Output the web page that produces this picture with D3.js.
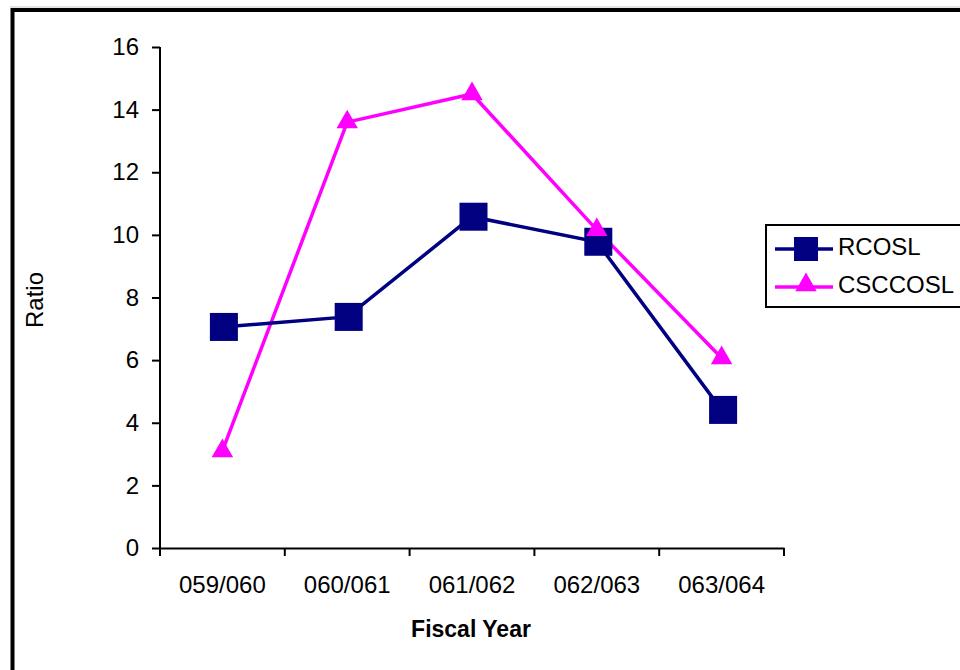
<!DOCTYPE html>
<html>
<head>
<meta charset="utf-8">
<script src="https://cdn.jsdelivr.net/npm/d3@7"></script>
<style>
  body { margin: 0; background: #fff; }
  svg { display: block; font-family: "Liberation Sans", Arial, sans-serif; }
</style>
</head>
<body>
<div id="chart"></div>
<script>
/**
 * DATA
 * */
const years = ["059/060", "060/061", "061/062", "062/063", "063/064"];
const rcosl = [7.06, 7.38, 10.58, 9.78, 4.41];
const csccosl = [3.1, 13.6, 14.5, 10.16, 6.07];
const yTicks = [0, 2, 4, 6, 8, 10, 12, 14, 16];

const width = 960,
  height = 670,
  margin = { top: 47, bottom: 122, left: 160, right: 176 };

const navy = "#000080",
  magenta = "#ff00ff",
  font = "Liberation Sans, Arial, sans-serif";

const svg = d3.select("#chart")
  .append("svg")
  .attr("width", width)
  .attr("height", height);

// page edge + chart frame
svg.append("line")
  .attr("x1", 10).attr("x2", width)
  .attr("y1", 7).attr("y2", 7)
  .attr("stroke", "#c8c8c8").attr("stroke-width", 1);

svg.append("rect")
  .attr("x", 12.5).attr("y", 10)
  .attr("width", width + 20).attr("height", height + 20)
  .attr("fill", "none")
  .attr("stroke", "#000")
  .attr("stroke-width", 4);

// SCALES
const xScale = d3.scaleBand()
  .domain(years)
  .range([margin.left, width - margin.right]);

const yScale = d3.scaleLinear()
  .domain([0, 16])
  .range([height - margin.bottom, margin.top]);

const cx = d => xScale(d) + xScale.bandwidth() / 2;

// AXES
const xAxis = d3.axisBottom(xScale).tickSize(0).tickPadding(28);
const yAxis = d3.axisLeft(yScale).tickValues(yTicks).tickSize(8).tickPadding(13);

const gx = svg.append("g")
  .attr("transform", `translate(0,${yScale(0)})`)
  .call(xAxis);
gx.select(".domain").attr("stroke", "#000").attr("stroke-width", 2);
gx.selectAll("text").attr("font-size", 24).attr("fill", "#000").attr("font-family", font);

// category boundary ticks
svg.append("g")
  .selectAll("line")
  .data(d3.range(years.length + 1))
  .join("line")
  .attr("x1", i => margin.left + i * xScale.bandwidth())
  .attr("x2", i => margin.left + i * xScale.bandwidth())
  .attr("y1", yScale(0))
  .attr("y2", yScale(0) + 8)
  .attr("stroke", "#000")
  .attr("stroke-width", 2);

const gy = svg.append("g")
  .attr("transform", `translate(${margin.left},0)`)
  .call(yAxis);
gy.select(".domain").attr("stroke", "#000").attr("stroke-width", 2).attr("d", `M0,${yScale(0)}V${yScale(16)}`);
gy.selectAll(".tick line").attr("stroke", "#000").attr("stroke-width", 2);
gy.selectAll("text").attr("font-size", 24).attr("fill", "#000").attr("font-family", font);

// axis titles
svg.append("text")
  .attr("x", 471)
  .attr("y", 637)
  .attr("text-anchor", "middle")
  .attr("font-size", 23)
  .attr("font-weight", "bold")
  .text("Fiscal Year");

svg.append("text")
  .attr("transform", `translate(43,300) rotate(-90)`)
  .attr("text-anchor", "middle")
  .attr("font-size", 24)
  .text("Ratio");

// LINES
const line = d3.line()
  .x((d, i) => cx(years[i]))
  .y(d => yScale(d));

svg.append("path")
  .datum(csccosl)
  .attr("d", line)
  .attr("fill", "none")
  .attr("stroke", magenta)
  .attr("stroke-width", 3.5);

svg.append("path")
  .datum(rcosl)
  .attr("d", line)
  .attr("fill", "none")
  .attr("stroke", navy)
  .attr("stroke-width", 3.5);

const sq = 28;
const tri = d3.symbol().type(d3.symbolTriangle).size(200);

svg.append("g")
  .selectAll("rect")
  .data(rcosl)
  .join("rect")
  .attr("x", (d, i) => cx(years[i]) - sq / 2 + 1.5)
  .attr("y", d => yScale(d) - sq / 2)
  .attr("width", sq)
  .attr("height", sq)
  .attr("fill", navy);

svg.append("g")
  .selectAll("path")
  .data(csccosl)
  .join("path")
  .attr("d", tri)
  .attr("transform", (d, i) => `translate(${cx(years[i])},${yScale(d)})`)
  .attr("fill", magenta);

// LEGEND
const legend = svg.append("g");
legend.append("rect")
  .attr("x", 766).attr("y", 225)
  .attr("width", 260).attr("height", 82)
  .attr("fill", "#fff")
  .attr("stroke", "#000")
  .attr("stroke-width", 2);

const items = [
  { name: "RCOSL", color: navy, shape: "square" },
  { name: "CSCCOSL", color: magenta, shape: "triangle" }
];

items.forEach((it, i) => {
  const y = 249 + i * 38;
  legend.append("line")
    .attr("x1", 775).attr("x2", 833)
    .attr("y1", y).attr("y2", y)
    .attr("stroke", it.color)
    .attr("stroke-width", 3.5);
  if (it.shape === "square") {
    legend.append("rect")
      .attr("x", 794).attr("y", y - 12)
      .attr("width", 24).attr("height", 24)
      .attr("fill", it.color);
  } else {
    legend.append("path")
      .attr("d", tri)
      .attr("transform", `translate(806,${y - 2})`)
      .attr("fill", it.color);
  }
  legend.append("text")
    .attr("x", 838).attr("y", y + 6)
    .attr("font-size", 24)
    .text(it.name);
});
</script>
</body>
</html>
